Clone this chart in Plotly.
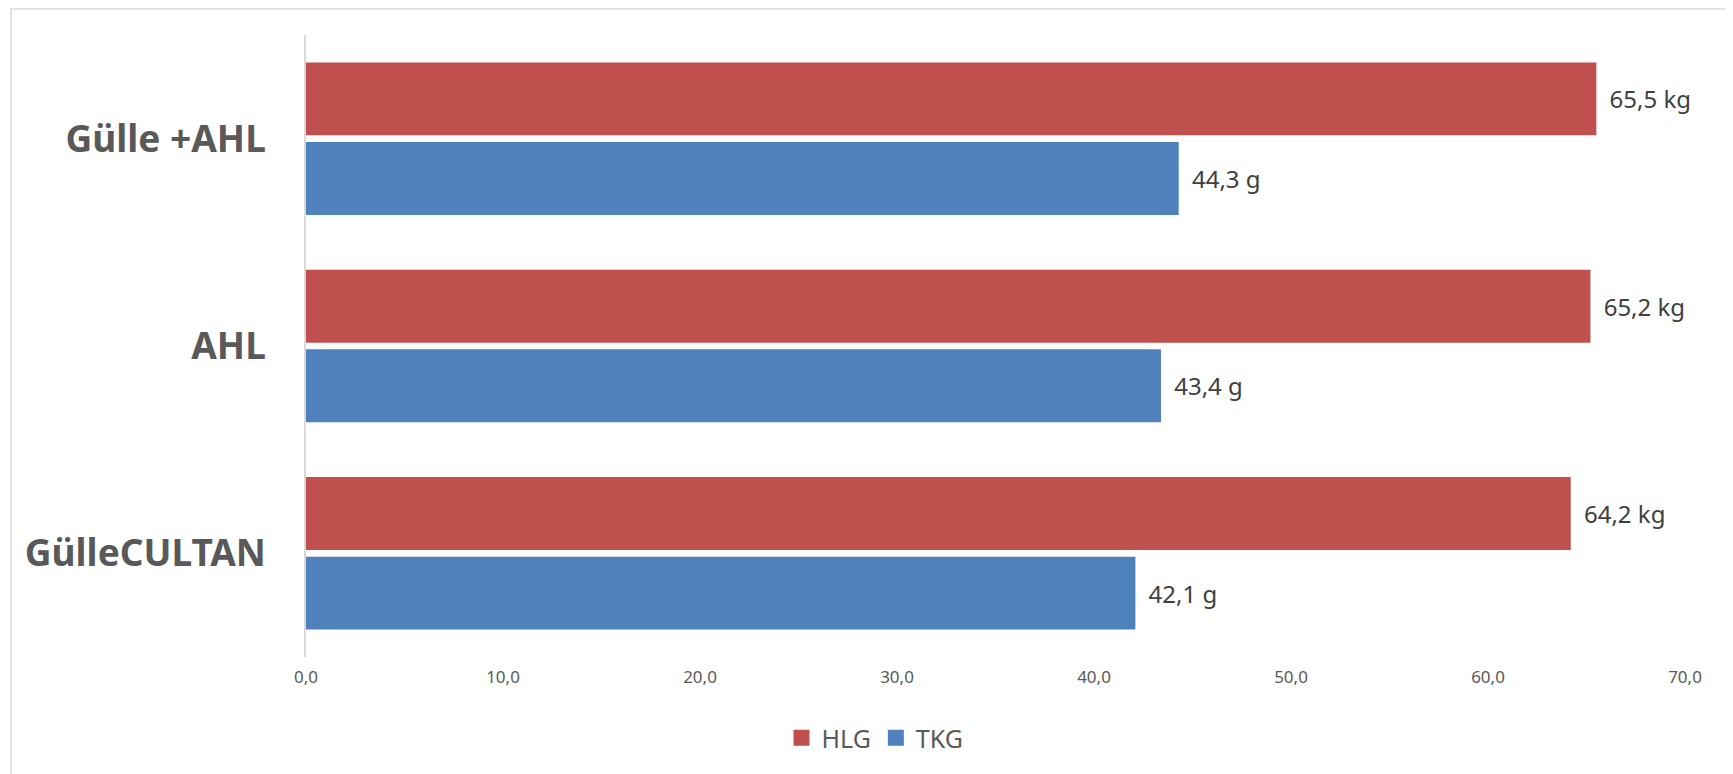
import plotly.graph_objects as go

categories = ["Gülle +AHL", "AHL", "GülleCULTAN"]
hlg_values = [65.5, 65.2, 64.2]
tkg_values = [44.3, 43.4, 42.1]
hlg_unit = "kg"
tkg_unit = "g"
x_ticks = [0, 10, 20, 30, 40, 50, 60, 70]

RED = "#C0504D"
BLUE = "#4F81BD"
TXT = "#595959"
FONT = "Noto Sans"

# page body has an 8px margin, so figure coordinates are page coordinates - 8
W, H = 1725, 766
PL, PR, PT, PB = 298, 1677, 27, 649
PW, PH = PR - PL, PB - PT

def fmt(v, unit):
    return "\u00a0\u2009" + f"{v:.1f}".replace(".", ",") + " " + unit

fig = go.Figure()
fig.add_trace(go.Bar(
    name="HLG", y=categories, x=hlg_values, orientation="h",
    marker=dict(color=RED, line=dict(width=0)),
    text=[fmt(v, hlg_unit) for v in hlg_values],
    textposition="outside", cliponaxis=False, constraintext="none",
    textfont=dict(family=FONT, size=24, color="#404040"),
    showlegend=False, hoverinfo="skip",
))
fig.add_trace(go.Bar(
    name="TKG", y=categories, x=tkg_values, orientation="h",
    marker=dict(color=BLUE, line=dict(width=0)),
    text=[fmt(v, tkg_unit) for v in tkg_values],
    textposition="outside", cliponaxis=False, constraintext="none",
    textfont=dict(family=FONT, size=24, color="#404040"),
    showlegend=False, hoverinfo="skip",
))
# legend entries
for nm, col in [("HLG", RED), ("TKG", BLUE)]:
    fig.add_trace(go.Scatter(
        x=[None], y=[None], mode="markers", name=nm,
        marker=dict(symbol="square", size=19, color=col),
        showlegend=True,
    ))

fig.update_layout(
    width=W, height=H, autosize=False,
    margin=dict(l=PL, r=W - PR, t=PT, b=H - PB, autoexpand=False),
    paper_bgcolor="white", plot_bgcolor="white",
    barmode="group", bargap=0.233, bargroupgap=0.083,
    separators=",.",
    font=dict(family=FONT, color=TXT),
    legend=dict(
        orientation="h", x=(867 - PL) / PW, xanchor="center",
        y=(PB - 730) / PH, yanchor="middle",
        font=dict(family=FONT, size=25, color=TXT),
        bgcolor="rgba(0,0,0,0)",
    ),
    xaxis=dict(
        range=[0, 70], tickvals=x_ticks, tickformat=".1f",
        showgrid=False, zeroline=False, showline=False, ticks="",
        tickfont=dict(family=FONT, size=17, color=TXT),
        ticklabelstandoff=8, automargin=False,
    ),
    yaxis=dict(
        autorange="reversed", showgrid=False, zeroline=False,
        showline=True, linecolor="#D9D9D9", linewidth=1.5, ticks="",
        tickfont=dict(family=FONT, size=37, color=TXT, weight="bold"),
        ticklabelstandoff=31, automargin=False,
    ),
    shapes=[dict(
        type="rect", xref="paper", yref="paper",
        x0=(3 - PL) / PW, x1=(1720 - PL) / PW,
        y0=(PB - 800) / PH, y1=(PB - 1) / PH,
        line=dict(color="#D9D9D9", width=1.5), fillcolor="rgba(0,0,0,0)",
        layer="below",
    )],
)

fig.write_html("out.html")
